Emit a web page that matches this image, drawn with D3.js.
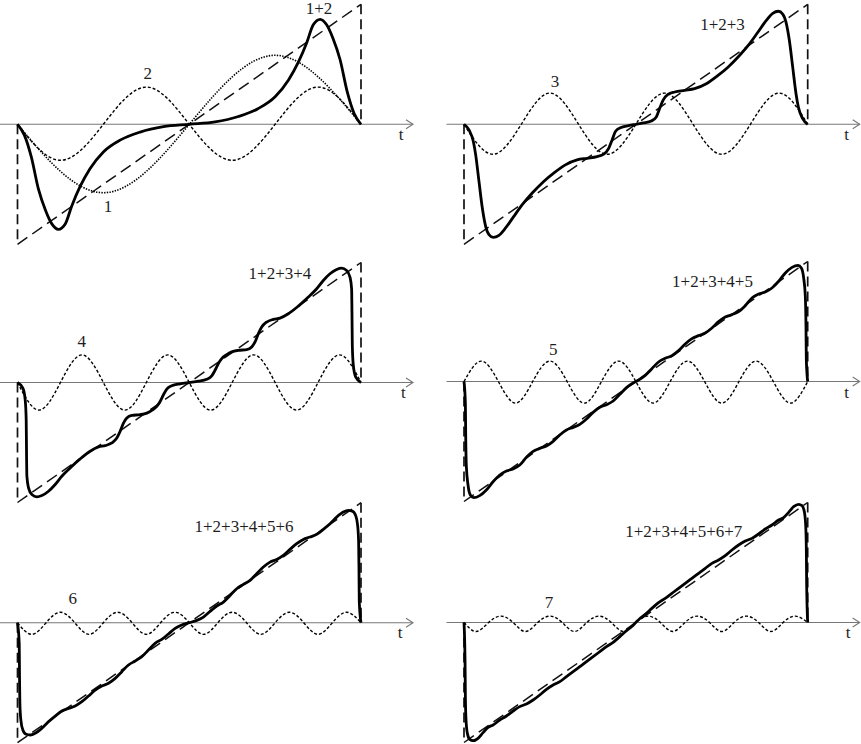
<!DOCTYPE html>
<html><head><meta charset="utf-8">
<script src="https://cdn.jsdelivr.net/npm/d3@7"></script>
<style>body{margin:0;background:#fff} text{font-family:"Liberation Serif","DejaVu Serif","Times New Roman",serif;font-size:17px;fill:#1e1e1e}</style>
</head><body>
<svg id="c" width="861" height="744"></svg>
<script>
// ---------- DATA (t as fraction of period, values in units of the sawtooth half-height) ----------
const axisLabel = "t";
const sumLabels = ["1+2", "1+2+3", "1+2+3+4", "1+2+3+4+5", "1+2+3+4+5+6", "1+2+3+4+5+6+7"];
const harmonicLabels = ["1", "2", "3", "4", "5", "6", "7"];

// sawtooth (dashed) reference
const sawRamp = [[0, -1], [1, 1]];
const sawJumpLeft = [[0, 0], [0, -1]];
const sawJumpRight = [[1, 1], [1, 0]];

// harmonics: values at quarter-period knots, evenly spaced over [0,1]
const harmonic1 = [0, -0.57, 0, 0.575, 0];
const harmonic2 = [0, -0.30, 0, 0.31, 0, -0.30, 0, 0.31, 0];
const harmonic3 = [0, -0.25, 0, 0.26, 0, -0.25, 0, 0.26, 0, -0.25, 0, 0.26, 0];
const harmonic4 = [0, -0.23, 0, 0.23, 0, -0.23, 0, 0.23, 0, -0.23, 0, 0.23, 0, -0.23, 0, 0.23, 0];
const harmonic5 = [0, 0.17, 0, -0.18, 0, 0.17, 0, -0.18, 0, 0.17, 0, -0.18, 0, 0.17, 0, -0.18, 0, 0.17, 0, -0.18, 0];
const harmonic6 = [0, -0.097, 0, 0.087, 0, -0.097, 0, 0.087, 0, -0.097, 0, 0.087, 0, -0.097, 0, 0.087, 0, -0.097, 0, 0.087, 0, -0.097, 0, 0.087, 0];
const harmonic7 = [0, -0.075, 0, 0.053, 0, -0.075, 0, 0.053, 0, -0.075, 0, 0.053, 0, -0.075, 0, 0.053, 0, -0.075, 0, 0.053, 0, -0.075, 0, 0.053, 0, -0.075, 0, 0.053, 0];

// partial sums (bold), points [t, value]
const sum12 = [[0,0],[0.02,-0.09],[0.04,-0.27],[0.061,-0.54],[0.082,-0.72],[0.1,-0.83],[0.119,-0.875],[0.139,-0.83],[0.158,-0.68],[0.182,-0.52],[0.211,-0.37],[0.25,-0.23],[0.3,-0.13],[0.357,-0.065],[0.425,-0.02],[0.5,0],
  [0.575,0.02],[0.643,0.065],[0.7,0.13],[0.75,0.23],[0.789,0.37],[0.818,0.52],[0.842,0.68],[0.861,0.83],[0.881,0.875],[0.9,0.83],[0.918,0.72],[0.939,0.54],[0.96,0.27],[0.98,0.09],[1,0]];
const sum123 = [[0,0],[0.0146,-0.047],[0.0272,-0.144],[0.034,-0.255],[0.0436,-0.476],[0.0533,-0.698],[0.063,-0.85],[0.0727,-0.919],[0.0853,-0.942],[0.1017,-0.925],[0.121,-0.864],[0.145,-0.767],[0.1695,-0.67],[0.1985,-0.573],[0.232,-0.476],[0.261,-0.407],[0.295,-0.338],[0.329,-0.297],[0.358,-0.283],[0.387,-0.269],[0.4066,-0.249],[0.421,-0.2],[0.431,-0.13],[0.4405,-0.061],[0.455,-0.028],[0.479,-0.011],[0.5,0],
  [0.521,0.011],[0.545,0.028],[0.5595,0.061],[0.569,0.13],[0.579,0.2],[0.5934,0.249],[0.613,0.269],[0.642,0.283],[0.671,0.297],[0.705,0.338],[0.739,0.407],[0.768,0.476],[0.8015,0.573],[0.8305,0.67],[0.855,0.767],[0.879,0.864],[0.8983,0.925],[0.9147,0.942],[0.9273,0.919],[0.937,0.85],[0.9467,0.698],[0.9564,0.476],[0.966,0.255],[0.9728,0.144],[0.9854,0.047],[1,0]];
const sum1234 = [[0,0],[0.0156,-0.047],[0.0224,-0.144],[0.0253,-0.31],[0.0263,-0.587],[0.0273,-0.781],[0.0321,-0.878],[0.0418,-0.934],[0.0563,-0.953],[0.0709,-0.942],[0.0903,-0.906],[0.1097,-0.85],[0.129,-0.781],[0.1533,-0.712],[0.1824,-0.637],[0.2115,-0.573],[0.2358,-0.537],[0.2552,-0.526],[0.2746,-0.504],[0.2891,-0.462],[0.2988,-0.407],[0.3085,-0.338],[0.3182,-0.296],[0.3328,-0.274],[0.357,-0.268],[0.3764,-0.255],[0.391,-0.232],[0.4055,-0.199],[0.4152,-0.158],[0.4249,-0.102],[0.4346,-0.055],[0.4491,-0.027],[0.4734,-0.011],[0.5,0],
  [0.5266,0.011],[0.5509,0.027],[0.5654,0.055],[0.5751,0.102],[0.5848,0.158],[0.5945,0.199],[0.609,0.232],[0.6236,0.255],[0.643,0.268],[0.6672,0.274],[0.6818,0.296],[0.6915,0.338],[0.7012,0.407],[0.7109,0.462],[0.7254,0.504],[0.7448,0.526],[0.7642,0.537],[0.7885,0.573],[0.8176,0.637],[0.8467,0.712],[0.871,0.781],[0.8903,0.85],[0.9097,0.906],[0.9291,0.942],[0.9437,0.953],[0.9582,0.934],[0.9679,0.878],[0.9727,0.781],[0.9737,0.587],[0.9747,0.31],[0.9776,0.144],[0.9844,0.047],[1,0]];
const sum12345 = [[0,0],[0.004,-0.182],[0.005,-0.46],[0.0069,-0.71],[0.0117,-0.8625],[0.0185,-0.946],[0.0282,-0.968],[0.0457,-0.951],[0.0651,-0.904],[0.0845,-0.835],[0.104,-0.779],[0.1234,-0.746],[0.1428,-0.729],[0.1622,-0.696],[0.1816,-0.632],[0.201,-0.582],[0.2204,-0.557],[0.2399,-0.5375],[0.2593,-0.4986],[0.2787,-0.446],[0.2981,-0.404],[0.3175,-0.382],[0.3369,-0.357],[0.3564,-0.3125],[0.3757,-0.257],[0.3952,-0.215],[0.4146,-0.193],[0.434,-0.1625],[0.4534,-0.107],[0.4728,-0.051],[0.4874,-0.021],[0.5,0],
  [0.5126,0.021],[0.5272,0.051],[0.5466,0.107],[0.566,0.1625],[0.5854,0.193],[0.6048,0.215],[0.6243,0.257],[0.6436,0.3125],[0.6631,0.357],[0.6825,0.382],[0.7019,0.404],[0.7213,0.446],[0.7407,0.4986],[0.7601,0.5375],[0.7796,0.557],[0.799,0.582],[0.8184,0.632],[0.8378,0.696],[0.8572,0.729],[0.8766,0.746],[0.896,0.779],[0.9155,0.835],[0.9349,0.904],[0.9543,0.951],[0.9718,0.968],[0.9815,0.946],[0.9883,0.8625],[0.9931,0.71],[0.995,0.46],[0.996,0.182],[1,0]];
const sum123456 = [[0,0],[0.005,-0.172],[0.0059,-0.45],[0.0069,-0.672],[0.0098,-0.811],[0.0156,-0.894],[0.0253,-0.93],[0.037,-0.936],[0.0515,-0.922],[0.0709,-0.88],[0.0903,-0.825],[0.1097,-0.778],[0.129,-0.736],[0.1485,-0.714],[0.1679,-0.694],[0.1873,-0.658],[0.2067,-0.611],[0.2261,-0.561],[0.2455,-0.5275],[0.2649,-0.505],[0.2843,-0.464],[0.3037,-0.408],[0.323,-0.3525],[0.3425,-0.319],[0.3619,-0.283],[0.3812,-0.2275],[0.4006,-0.172],[0.42,-0.139],[0.4394,-0.094],[0.4588,-0.047],[0.4782,-0.019],[0.5,0],
  [0.5218,0.019],[0.5412,0.047],[0.5606,0.094],[0.58,0.139],[0.5994,0.172],[0.6188,0.2275],[0.6381,0.283],[0.6575,0.319],[0.677,0.3525],[0.6963,0.408],[0.7157,0.464],[0.7351,0.505],[0.7545,0.5275],[0.7739,0.561],[0.7933,0.611],[0.8127,0.658],[0.8321,0.694],[0.8515,0.714],[0.871,0.736],[0.8903,0.778],[0.9097,0.825],[0.9291,0.88],[0.9485,0.922],[0.963,0.936],[0.9747,0.93],[0.9844,0.894],[0.9902,0.811],[0.9931,0.672],[0.9941,0.45],[0.995,0.172],[1,0]];
const sum1234567 = [[0,0],[0.003,-0.3125],[0.004,-0.618],[0.0059,-0.8125],[0.0098,-0.924],[0.0166,-0.974],[0.0263,-0.985],[0.0409,-0.965],[0.0554,-0.918],[0.07,-0.874],[0.0845,-0.854],[0.104,-0.8125],[0.1234,-0.779],[0.1428,-0.7375],[0.1622,-0.701],[0.1816,-0.679],[0.201,-0.646],[0.2204,-0.604],[0.2399,-0.557],[0.2593,-0.521],[0.2787,-0.493],[0.2981,-0.451],[0.3175,-0.41],[0.3369,-0.368],[0.3564,-0.326],[0.3757,-0.285],[0.3952,-0.243],[0.4146,-0.201],[0.434,-0.165],[0.4534,-0.118],[0.4728,-0.068],[0.4874,-0.035],[0.5,0],
  [0.5126,0.035],[0.5272,0.068],[0.5466,0.118],[0.566,0.165],[0.5854,0.201],[0.6048,0.243],[0.6243,0.285],[0.6436,0.326],[0.6631,0.368],[0.6825,0.41],[0.7019,0.451],[0.7213,0.493],[0.7407,0.521],[0.7601,0.557],[0.7796,0.604],[0.799,0.646],[0.8184,0.679],[0.8378,0.701],[0.8572,0.7375],[0.8766,0.779],[0.896,0.8125],[0.9155,0.854],[0.93,0.874],[0.9446,0.918],[0.9591,0.965],[0.9737,0.985],[0.9834,0.974],[0.9902,0.924],[0.9941,0.8125],[0.996,0.618],[0.997,0.3125],[1,0]];

// ---------- LAYOUT ----------
const H = 120;
const panels = [
  {x0:17.5, x1:361,   ay:124.3, harm:[{v:harmonic1, style:"dot", lab:0, lx:108, ly:212.3},{v:harmonic2, style:"dash", lab:1, lx:147.7, ly:79.3}], sum:sum12, sl:0, sx:319, sy:14, tx:401, ty:140},
  {x0:464,  x1:807.7, ay:124.3, harm:[{v:harmonic3, style:"dash", lab:2, lx:555, ly:87.3}], sum:sum123, sl:1, sx:722.5, sy:30, tx:846.7, ty:140},
  {x0:17.5, x1:361,   ay:382.5, harm:[{v:harmonic4, style:"dash", lab:3, lx:81.7, ly:346.7}], sum:sum1234, sl:2, sx:280, sy:279.3, tx:403.3, ty:398},
  {x0:464,  x1:807.7, ay:381.5, harm:[{v:harmonic5, style:"dash", lab:4, lx:553.3, ly:355}], sum:sum12345, sl:3, sx:712.5, sy:286.7, tx:846.7, ty:398},
  {x0:17.5, x1:361,   ay:622.7, harm:[{v:harmonic6, style:"dash", lab:5, lx:72.7, ly:604.3}], sum:sum123456, sl:4, sx:244, sy:531.7, tx:400, ty:638},
  {x0:464,  x1:807.7, ay:622.5, harm:[{v:harmonic7, style:"dash", lab:6, lx:549, ly:607.7}], sum:sum1234567, sl:5, sx:683.8, sy:537.3, tx:848, ty:638}
];

const svg = d3.select("#c");

panels.forEach(p => {
  const x = d3.scaleLinear().domain([0, 1]).range([p.x0, p.x1]);
  const y = d3.scaleLinear().domain([-1, 1]).range([p.ay + H, p.ay - H]);
  const g = svg.append("g");

  // axis with arrow
  const axStart = p.x0 - 17.5, axEnd = p.x1 + 52;
  g.append("line").attr("x1", axStart).attr("x2", axEnd).attr("y1", y(0)).attr("y2", y(0))
    .attr("stroke", "#777").attr("stroke-width", 1.1);
  g.append("path").attr("d", `M${axEnd-7},${y(0)-4.5}L${axEnd},${y(0)}L${axEnd-7},${y(0)+4.5}`)
    .attr("fill", "none").attr("stroke", "#777").attr("stroke-width", 1.1);
  g.append("text").attr("x", p.tx).attr("y", p.ty).attr("text-anchor", "middle").text(axisLabel);

  const line = d3.line().x(d => x(d[0])).y(d => y(d[1]));

  // sawtooth dashed
  g.append("path").attr("d", line(sawRamp)).attr("fill", "none")
    .attr("stroke", "#111").attr("stroke-width", 1.5).attr("stroke-dasharray", "12,6");
  [sawJumpLeft, sawJumpRight].forEach(s => g.append("path").attr("d", line(s)).attr("fill", "none")
    .attr("stroke", "#111").attr("stroke-width", 1.7).attr("stroke-dasharray", "10,5"));

  // harmonics
  const hline = d3.line().x(d => x(d[0])).y(d => y(d[1])).curve(d3.curveNatural);
  p.harm.forEach(h => {
    const pts = h.v.map((v, i) => [i / (h.v.length - 1), v]);
    g.append("path").attr("d", hline(pts)).attr("fill", "none")
      .attr("stroke", "#000").attr("stroke-width", h.style === "dot" ? 1.6 : 1.4)
      .attr("stroke-dasharray", h.style === "dot" ? "1.4,1.3" : "3,2");
    g.append("text").attr("x", h.lx).attr("y", h.ly).attr("text-anchor", "middle").text(harmonicLabels[h.lab]);
  });

  // partial sum (bold)
  const bline = d3.line().x(d => x(d[0])).y(d => y(d[1])).curve(d3.curveMonotoneX);
  g.append("path").attr("d", bline(p.sum)).attr("fill", "none")
    .attr("stroke", "#000").attr("stroke-width", 2.8).attr("stroke-linejoin", "round");
  g.append("text").attr("x", p.sx).attr("y", p.sy).attr("text-anchor", "middle").text(sumLabels[p.sl]);
});
</script>
</body></html>
